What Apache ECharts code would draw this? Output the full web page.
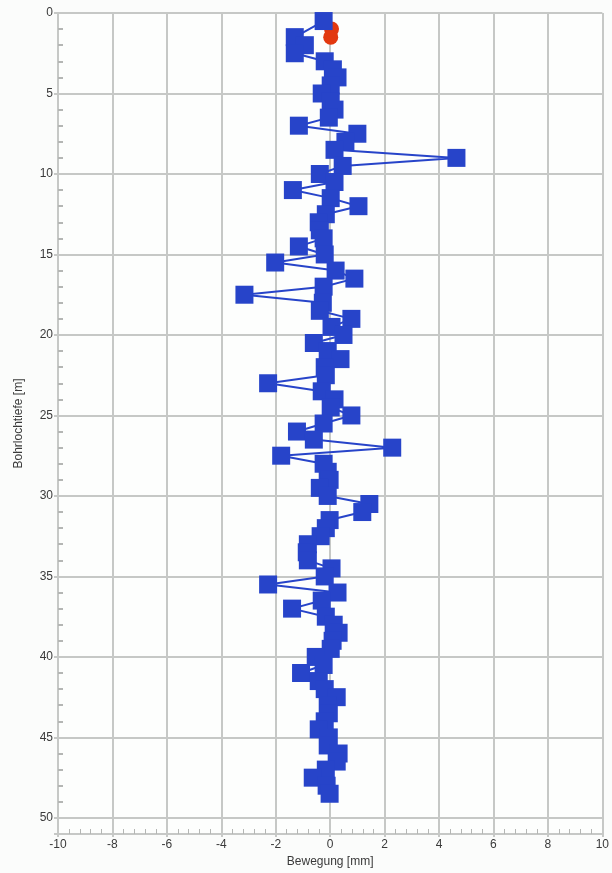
<!DOCTYPE html>
<html><head><meta charset="utf-8">
<script src="https://cdn.jsdelivr.net/npm/echarts@6/dist/echarts.min.js"></script>
<style>html,body{margin:0;padding:0;background:#fbfcfb}#c{width:612px;height:873px}</style>
</head><body><div id="c"></div>
<script>
const depths = [0.5,1.5,2.0,2.5,3.0,3.5,4.0,4.5,5.0,5.5,6.0,6.5,7.0,7.5,8.0,8.5,9.0,9.5,10.0,10.5,11.0,11.5,12.0,12.5,13.0,13.5,14.0,14.5,15.0,15.5,16.0,16.5,17.0,17.5,18.0,18.5,19.0,19.5,20.0,20.5,21.0,21.5,22.0,22.5,23.0,23.5,24.0,24.5,25.0,25.5,26.0,26.5,27.0,27.5,28.0,28.5,29.0,29.5,30.0,30.5,31.0,31.5,32.0,32.5,33.0,33.5,34.0,34.5,35.0,35.5,36.0,36.5,37.0,37.5,38.0,38.5,39.0,39.5,40.0,40.5,41.0,41.5,42.0,42.5,43.0,43.5,44.0,44.5,45.0,45.5,46.0,46.5,47.0,47.5,48.0,48.5];
const movement = [-0.24,-1.3,-0.93,-1.3,-0.2,0.1,0.27,0.02,-0.31,0.02,0.16,-0.05,-1.15,1.0,0.56,0.16,4.64,0.46,-0.38,0.16,-1.37,0.02,1.04,-0.16,-0.42,-0.38,-0.24,-1.15,-0.2,-2.02,0.2,0.89,-0.24,-3.15,-0.27,-0.38,0.78,0.05,0.49,-0.6,-0.09,0.38,-0.2,-0.16,-2.28,-0.31,0.16,0.02,0.78,-0.24,-1.22,-0.6,2.28,-1.8,-0.24,-0.09,-0.02,-0.38,-0.09,1.44,1.18,-0.02,-0.16,-0.35,-0.82,-0.86,-0.82,0.05,-0.2,-2.28,0.27,-0.31,-1.4,-0.16,0.13,0.31,0.09,0.02,-0.53,-0.24,-1.07,-0.42,-0.2,0.24,-0.09,-0.05,-0.2,-0.42,-0.05,-0.09,0.31,0.24,-0.16,-0.64,-0.13,-0.02];
const refDepths = [1.0, 1.5];
const refMovement = [0.05, 0.02];
const xLabel = 'Bewegung [mm]';
const yLabel = 'Bohrlochtiefe [m]';

const blueData = depths.map((d,i)=>[movement[i], d]);
const redData = refDepths.map((d,i)=>[refMovement[i], d]);
const gridCol = '#c6c8c6';
const txt = {fontFamily: 'Liberation Sans', fontSize: 12, color: '#3a3a3a'};
const xBase = {type: 'value', min: -10, max: 10, interval: 2, position: 'bottom'};
const yBase = {type: 'value', min: 0, max: 51, interval: 5, inverse: true, position: 'left'};
const chart = echarts.init(document.getElementById('c'));
chart.setOption({
  backgroundColor: '#fbfcfb',
  animation: false,
  grid: {left: 58, right: 5, top: 13, bottom: 38, containLabel: false, show: true, backgroundColor: '#fdfefd', borderWidth: 0},
  xAxis: [
    Object.assign({}, xBase, {
      name: xLabel, nameLocation: 'middle', nameGap: 22, nameTextStyle: txt,
      axisLine: {show: true, onZero: false, lineStyle: {color: gridCol, width: 2}},
      axisTick: {show: true, inside: false, length: 3, lineStyle: {color: gridCol, width: 2}},
      axisLabel: Object.assign({margin: 5}, txt),
      splitLine: {show: true, lineStyle: {color: gridCol, width: 2}}
    }),
    Object.assign({}, xBase, {
      axisLine: {show: false, onZero: false},
      axisTick: {show: true, inside: true, length: 5, lineStyle: {color: gridCol, width: 2}},
      minorTick: {show: true, splitNumber: 5, length: 5, lineStyle: {color: '#b4b6b4', width: 1}},
      axisLabel: {show: false},
      splitLine: {show: false}
    })
  ],
  yAxis: [
    Object.assign({}, yBase, {
      name: yLabel, nameLocation: 'middle', nameGap: 33, nameTextStyle: txt,
      axisLine: {show: true, onZero: false, lineStyle: {color: gridCol, width: 2}},
      axisTick: {show: true, inside: false, length: 4, lineStyle: {color: gridCol, width: 2}},
      axisLabel: Object.assign({margin: 5, formatter: v => (v % 5 === 0 ? String(v) : '')}, txt),
      splitLine: {show: true, lineStyle: {color: gridCol, width: 2}}
    }),
    Object.assign({}, yBase, {
      axisLine: {show: false, onZero: false},
      axisTick: {show: true, inside: true, length: 5, lineStyle: {color: gridCol, width: 2}},
      minorTick: {show: true, splitNumber: 5, length: 5, lineStyle: {color: '#b4b6b4', width: 2}},
      axisLabel: {show: false},
      splitLine: {show: false}
    })
  ],
  series: [
    {type: 'line', data: redData, symbol: 'circle', symbolSize: 15, z: 2,
     itemStyle: {color: '#e2380f'}, lineStyle: {color: '#e2380f', width: 2}},
    {type: 'line', data: blueData, symbol: 'rect', symbolSize: 18, z: 3,
     itemStyle: {color: '#2744c9'}, lineStyle: {color: '#2744c9', width: 2}}
  ]
});
</script></body></html>
